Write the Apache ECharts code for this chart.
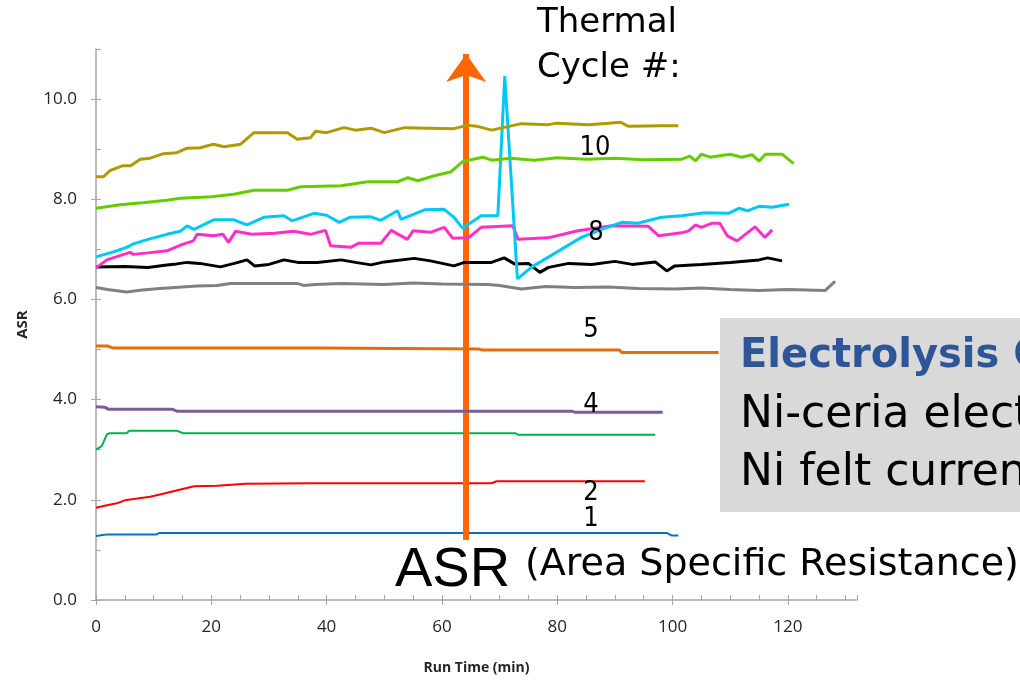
<!DOCTYPE html>
<html>
<head>
<meta charset="utf-8">
<script src="https://cdn.jsdelivr.net/npm/echarts@6/dist/echarts.min.js"></script>
<style>
  html, body { margin: 0; padding: 0; background: #fff; }
  #main { width: 1020px; height: 682px; }
</style>
</head>
<body>
<div id="main"></div>
<script>
// ASR vs run time, one line per thermal cycle  [run time (min), ASR]
const cycle1 = [[0, 1.28], [2, 1.31], [10.5, 1.31], [11, 1.34], [99, 1.34], [99.8, 1.29], [101, 1.29]]
const cycle2 = [[0, 1.84], [1.5, 1.88], [3.6, 1.93], [5, 1.99], [9.4, 2.06], [12, 2.13], [15.2, 2.22], [17, 2.27], [21, 2.28], [26, 2.32], [37.8, 2.33], [68.6, 2.33], [69.5, 2.37], [95.2, 2.37]]
const cycle3 = [[0, 3.0], [1, 3.07], [1.9, 3.31], [2.4, 3.33], [5.3, 3.33], [5.8, 3.38], [14, 3.38], [15.1, 3.33], [72.7, 3.33], [73.2, 3.3], [97, 3.3]]
const cycle4 = [[0, 3.86], [1.5, 3.85], [2.1, 3.81], [13.2, 3.81], [14, 3.77], [82.5, 3.77], [83, 3.75], [98.3, 3.75]]
const cycle5 = [[0, 5.07], [2, 5.07], [3, 5.03], [39.3, 5.03], [39.6, 5.01], [66.5, 5.01], [67, 4.99], [90.8, 4.99], [91.2, 4.94], [108, 4.94]]
const cycle6 = [[0, 6.24], [2, 6.2], [5.3, 6.15], [8, 6.19], [11.1, 6.22], [17.5, 6.27], [21, 6.28], [23.3, 6.32], [34.9, 6.32], [36, 6.28], [38, 6.3], [42.5, 6.32], [50, 6.3], [55, 6.33], [60, 6.31], [68, 6.3], [70, 6.28], [73.8, 6.21], [78, 6.26], [83, 6.24], [88.9, 6.25], [94, 6.22], [100.4, 6.21], [105, 6.23], [110, 6.2], [115, 6.18], [120, 6.2], [126.5, 6.18], [128.2, 6.36]]
const cycle7 = [[0, 6.65], [5, 6.66], [9, 6.64], [12.3, 6.69], [14, 6.71], [15.8, 6.74], [18, 6.72], [21.6, 6.65], [24, 6.72], [26.2, 6.79], [27.5, 6.67], [30, 6.7], [32.6, 6.79], [35, 6.74], [38.4, 6.74], [42.5, 6.79], [45, 6.74], [47.7, 6.69], [50, 6.75], [55.2, 6.82], [58, 6.77], [62.1, 6.67], [63.9, 6.74], [68.6, 6.74], [70.8, 6.83], [72.6, 6.71], [75, 6.72], [77, 6.54], [78.5, 6.64], [82, 6.72], [86, 6.7], [90, 6.76], [93, 6.7], [97, 6.75], [99, 6.57], [100.4, 6.67], [105, 6.7], [110, 6.74], [115, 6.79], [116.5, 6.83], [119, 6.77]]
const cycle8 = [[0, 6.63], [1.9, 6.79], [4, 6.87], [5.9, 6.94], [6.5, 6.9], [9, 6.93], [12.3, 6.97], [15, 7.1], [16.9, 7.17], [17.5, 7.3], [20.4, 7.27], [22, 7.3], [23, 7.14], [24.2, 7.36], [27, 7.3], [31, 7.32], [34.3, 7.36], [37.2, 7.3], [39.8, 7.38], [40.7, 7.07], [44.2, 7.04], [45.5, 7.12], [49.4, 7.12], [51.2, 7.38], [54, 7.2], [55, 7.37], [58, 7.34], [60.4, 7.44], [61.9, 7.22], [64.6, 7.23], [66.8, 7.44], [72.3, 7.47], [73.2, 7.2], [78.4, 7.23], [83.6, 7.37], [89.4, 7.47], [95.8, 7.46], [97.6, 7.27], [101.6, 7.33], [102.8, 7.37], [104, 7.49], [105, 7.44], [106.8, 7.52], [108.2, 7.52], [109.5, 7.27], [111.2, 7.17], [114.3, 7.45], [116, 7.24], [117.3, 7.39]]
const cycle9 = [[0, 6.85], [3, 6.95], [5.3, 7.04], [6.5, 7.11], [9, 7.2], [12.3, 7.3], [14.6, 7.36], [15.8, 7.47], [17, 7.4], [20.4, 7.59], [23.9, 7.59], [26.2, 7.49], [29.1, 7.64], [32.6, 7.67], [34, 7.57], [37.8, 7.72], [40, 7.68], [42.2, 7.54], [44, 7.64], [47.7, 7.65], [49.4, 7.58], [52.3, 7.77], [52.9, 7.6], [57, 7.79], [60.4, 7.8], [62.1, 7.64], [63.6, 7.42], [66.8, 7.67], [69.7, 7.67], [70.9, 10.46], [73.1, 6.41], [75.5, 6.64], [78.4, 6.84], [84.2, 7.24], [87.7, 7.4], [91.2, 7.54], [94, 7.52], [98.1, 7.64], [101.6, 7.67], [105.6, 7.73], [109.7, 7.72], [111.5, 7.82], [113, 7.77], [115, 7.86], [117.3, 7.84], [120.2, 7.9]]
const cycle10 = [[0, 7.82], [4.2, 7.89], [8, 7.93], [12.3, 7.98], [14.6, 8.02], [20, 8.05], [23.9, 8.1], [27.4, 8.18], [33.2, 8.18], [35.5, 8.25], [42.5, 8.27], [47.1, 8.35], [52.3, 8.35], [54.1, 8.43], [55.8, 8.37], [58.7, 8.47], [61.6, 8.55], [62.4, 8.63], [63.6, 8.75], [65, 8.79], [67.1, 8.84], [68.6, 8.78], [72, 8.82], [76, 8.78], [80, 8.83], [85, 8.8], [90, 8.82], [95, 8.79], [101.6, 8.8], [103, 8.86], [104, 8.77], [105, 8.9], [106.5, 8.84], [110, 8.9], [112, 8.84], [113.8, 8.89], [115, 8.76], [116.1, 8.9], [119, 8.9], [121, 8.71]]
const cycle11 = [[0, 8.45], [1.3, 8.45], [2.4, 8.57], [4.7, 8.67], [6, 8.67], [7.7, 8.8], [9.4, 8.82], [11.7, 8.91], [14, 8.93], [15.8, 9.02], [18.1, 9.03], [20.4, 9.1], [22.2, 9.05], [25.1, 9.1], [27.4, 9.33], [33.2, 9.33], [34.9, 9.2], [37.2, 9.23], [38.1, 9.36], [40, 9.33], [43, 9.43], [45, 9.38], [47.7, 9.42], [50, 9.33], [53.5, 9.43], [62.1, 9.41], [64.5, 9.48], [66, 9.46], [68.6, 9.38], [73.8, 9.51], [78.4, 9.49], [80, 9.52], [85.4, 9.49], [88.9, 9.52], [90.9, 9.54], [92.3, 9.46], [98.1, 9.47], [101, 9.47]]

const seriesData = [cycle1, cycle2, cycle3, cycle4, cycle5, cycle6, cycle7, cycle8, cycle9, cycle10, cycle11]
const seriesColors = ['#0070C0', '#FF0000', '#00B050', '#7A5C9A', '#E46C0A', '#808080', '#000000', '#FF2FC5', '#00C8F5', '#66CC00', '#AF9B00']
const seriesWidths = [2, 2, 2, 3, 3, 3, 3, 3, 3, 3, 3]

// arrow pointing up through the cycles  [run time, ASR]
const arrowFrom = [64.2, 1.2]
const arrowTo = [64.2, 10.9]

const chartInstance = echarts.init(document.getElementById('main'))

const series = seriesData.map((d, i) => ({
  type: 'line',
  data: d,
  showSymbol: false,
  smooth: false,
  silent: true,
  z: 2 + i,
  lineStyle: { color: seriesColors[i], width: seriesWidths[i] }
}))
// 橙色箭头
series.push({
  type: 'line',
  data: [],
  silent: true,
  z: 20,
  markLine: {
    silent: true,
    symbol: ['none', 'arrow'],
    symbolSize: [30, 28],
    label: { show: false },
    lineStyle: { color: '#FF6600', width: 6, type: 'solid' },
    data: [[{ coord: arrowFrom }, { coord: arrowTo }]]
  }
})

const annoFont = '"DejaVu Sans", sans-serif'
const cycleLabels = [['10', 595, 148], ['8', 596, 233], ['5', 591, 330], ['4', 591, 405], ['2', 591, 493], ['1', 591, 519]]

const graphic = [
  { type: 'text', left: 537, top: 6, style: { text: 'Thermal', font: '34px ' + annoFont, fill: '#000' }, z: 30 },
  { type: 'text', left: 537, top: 51, style: { text: 'Cycle #:', font: '34px ' + annoFont, fill: '#000' }, z: 30 },
  { type: 'rect', shape: { x: 720, y: 318, width: 310, height: 194 }, style: { fill: '#D9D9D9' }, z: 25 },
  { type: 'text', x: 740, y: 357, style: { text: 'Electrolysis C', font: 'bold 40px ' + annoFont, fill: '#2E5597', verticalAlign: 'middle' }, z: 30 },
  { type: 'text', x: 740, y: 416, style: { text: 'Ni-ceria elect', font: '44px ' + annoFont, fill: '#000', verticalAlign: 'middle' }, z: 30 },
  { type: 'text', x: 740, y: 474, style: { text: 'Ni felt curren', font: '44px ' + annoFont, fill: '#000', verticalAlign: 'middle' }, z: 30 },
  { type: 'text', x: 395, y: 571, style: { text: 'ASR', font: '56px "Liberation Sans", Arial, sans-serif', fill: '#000', verticalAlign: 'middle' }, z: 30 },
  { type: 'text', x: 525, y: 565, style: { text: '(Area Specific Resistance)', font: '38px ' + annoFont, fill: '#000', verticalAlign: 'middle' }, z: 30 }
].concat(cycleLabels.map(l => ({
  type: 'text', x: l[1], y: l[2], z: 30,
  style: { text: l[0], font: '27px "DejaVu Sans Condensed", "DejaVu Sans", sans-serif', fill: '#000', align: 'center', verticalAlign: 'middle' }
})))

const axisFont = '"Open Sans", sans-serif'
const option = {
  animation: false,
  grid: { left: 96, right: 163, top: 49, bottom: 82 },
  xAxis: [
    {
      type: 'value', position: 'bottom', min: 0, max: 132, interval: 20,
      name: 'Run Time (min)', nameLocation: 'middle', nameGap: 61,
      nameTextStyle: { fontFamily: axisFont, fontWeight: 'bold', fontSize: 14, color: '#262626' },
      axisLine: { lineStyle: { color: '#A6A6A6', width: 1.5 } },
      axisTick: { show: true, inside: false, length: 5, lineStyle: { color: '#A6A6A6' } },
      axisLabel: { fontFamily: axisFont, fontSize: 17, color: '#262626', margin: 19, showMaxLabel: false },
      splitLine: { show: false }
    },
    {
      type: 'value', position: 'bottom', min: 0, max: 132, interval: 5,
      axisLine: { show: false },
      axisTick: { show: true, inside: true, length: 5, lineStyle: { color: '#A6A6A6' } },
      axisLabel: { show: false },
      splitLine: { show: false }
    }
  ],
  yAxis: [
    {
      type: 'value', position: 'left', min: 0, max: 11, interval: 2,
      name: 'ASR', nameLocation: 'middle', nameGap: 66,
      nameTextStyle: { fontFamily: axisFont, fontWeight: 'bold', fontSize: 15, color: '#262626' },
      axisLine: { show: true, lineStyle: { color: '#A6A6A6', width: 1.5 } },
      axisTick: { show: true, inside: false, length: 5, lineStyle: { color: '#A6A6A6' } },
      axisLabel: { fontFamily: axisFont, fontSize: 17, color: '#262626', margin: 19, showMaxLabel: false, formatter: v => v.toFixed(1) },
      splitLine: { show: false }
    },
    {
      type: 'value', position: 'left', min: 0, max: 11, interval: 1,
      axisLine: { show: false },
      axisTick: { show: true, inside: true, length: 5, lineStyle: { color: '#A6A6A6' } },
      axisLabel: { show: false },
      splitLine: { show: false }
    }
  ],
  graphic: graphic,
  series: series
}
chartInstance.setOption(option)
</script>
</body>
</html>
